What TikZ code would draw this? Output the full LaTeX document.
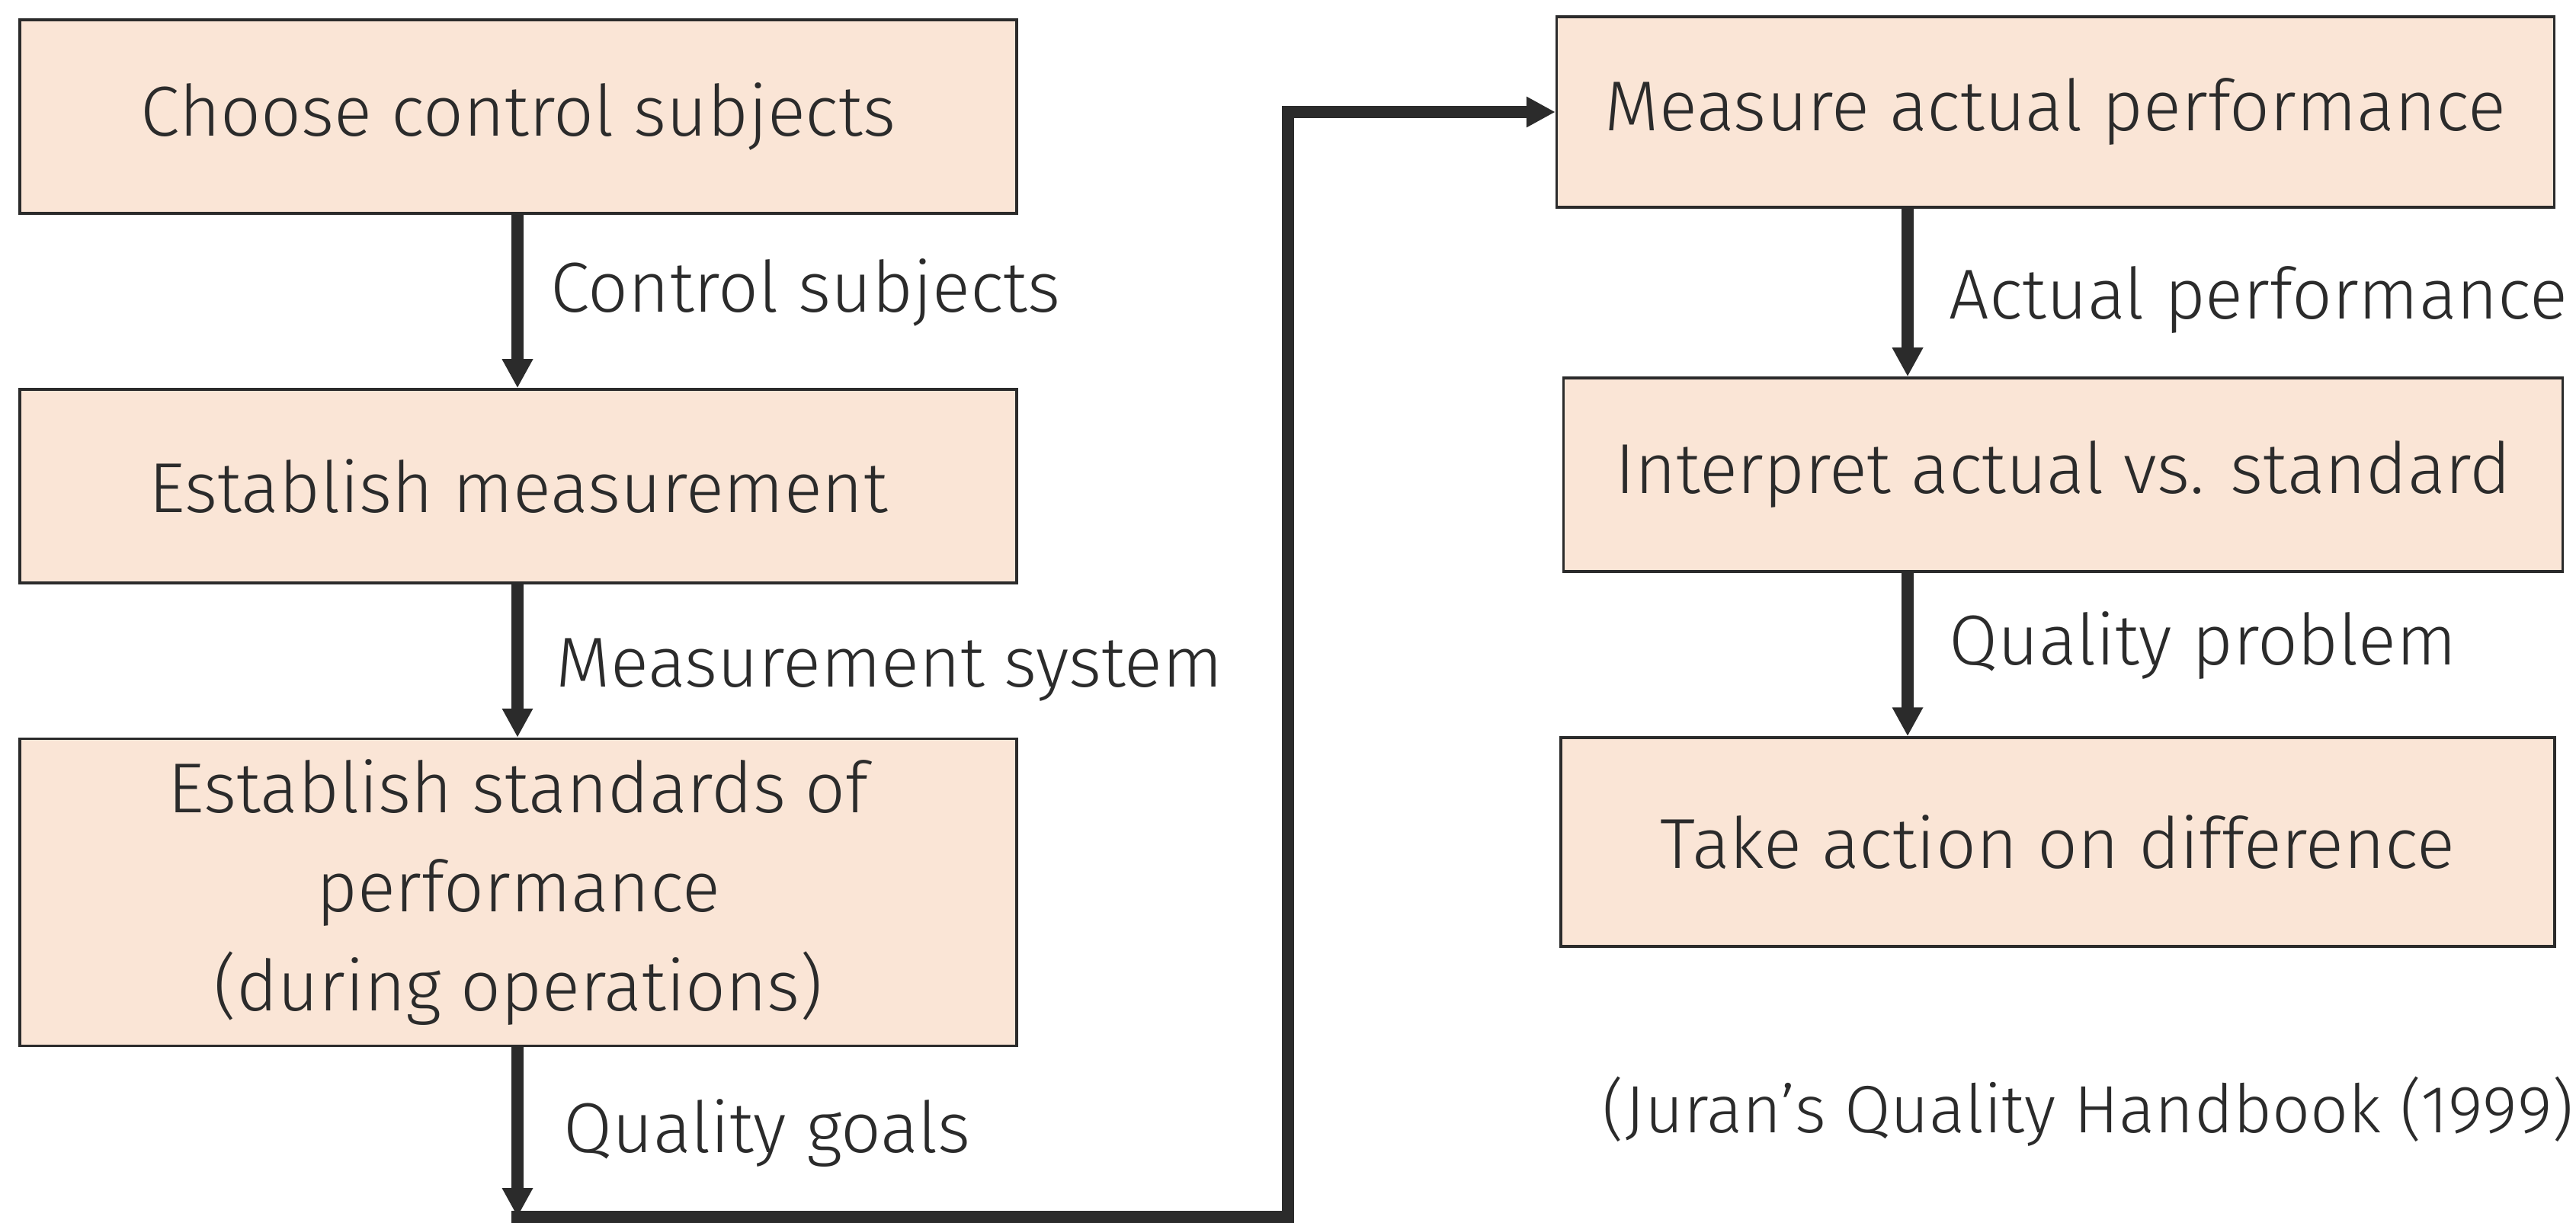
\documentclass[tikz,border=0pt]{standalone}
\usepackage{fontspec}
\setmainfont{Fira Sans}[UprightFont=* Light]
\usetikzlibrary{arrows.meta}
\definecolor{boxfill}{RGB}{250,229,214}
\definecolor{ink}{RGB}{43,43,43}
\tikzset{
  box/.style={draw=ink, line width=1pt, fill=boxfill, rectangle, inner sep=0pt, align=center, text=ink,
    font=\fontsize{26.4}{37}\selectfont},
  lbl/.style={anchor=west, inner sep=0pt, text=ink, font=\fontsize{26.4}{37}\selectfont},
  conn/.style={draw=ink, line width=4.3pt},
  arr/.style={conn, -{Triangle[width=0.38cm,length=0.38cm]}}
}
\begin{document}
\begin{tikzpicture}
\useasboundingbox (0,0) rectangle (33.8,-16.05);
\node[box, minimum width=13.08cm, minimum height=2.54cm] (b1) at (6.80,-1.53) {Choose control subjects};
\node[box, minimum width=13.08cm, minimum height=2.54cm] (b2) at (6.80,-6.38) {Establish measurement};
\node[box, minimum width=13.08cm, minimum height=4.03cm] (b3) at (6.80,-11.71) {Establish standards of\\performance\\(during operations)};
\node[box, minimum width=13.09cm, minimum height=2.50cm] (b4) at (26.97,-1.47) {Measure actual performance};
\node[box, minimum width=13.11cm, minimum height=2.54cm] (b5) at (27.07,-6.23) {Interpret actual vs. standard};
\node[box, minimum width=13.04cm, minimum height=2.74cm] (b6) at (27.00,-11.05) {Take action on difference};

\coordinate (bl) at (6.79,-15.97);
\coordinate (br) at (16.90,-15.97);
\coordinate (rx) at (25.03,0);

\draw[arr] (b1.south -| bl) -- (b2.north -| bl);
\draw[arr] (b2.south -| bl) -- (b3.north -| bl);
\draw[arr] (b3.south -| bl) -- (bl);
\draw[arr] ([xshift=-2.15pt]bl) -- (br) |- (b4.west);
\draw[arr] (b4.south -| rx) -- (b5.north -| rx);
\draw[arr] (b5.south -| rx) -- (b6.north -| rx);

\node[lbl] (l1) at (7.22,-3.84) {Control subjects};
\node[lbl] (l2) at (7.29,-8.79) {Measurement system};
\node[lbl] (l3) at (7.39,-14.87) {Quality goals};
\node[lbl] (l4) at (25.57,-3.94) {Actual performance};
\node[lbl] (l5) at (25.57,-8.47) {Quality problem};
\node[lbl, font=\fontsize{25}{37}\selectfont] (cite) at (21.02,-14.59) {(Juran’s Quality Handbook (1999)};
\end{tikzpicture}
\end{document}
